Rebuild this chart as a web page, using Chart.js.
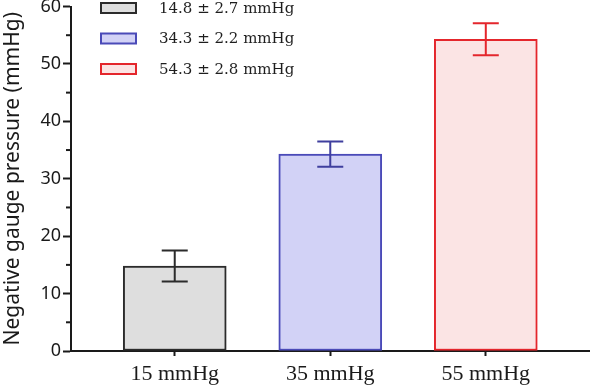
<!DOCTYPE html>
<html>
<head>
<meta charset="utf-8">
<script src="https://cdn.jsdelivr.net/npm/chart.js@4/dist/chart.umd.min.js"></script>
<style>
html,body{margin:0;padding:0;background:#fff;}
#wrap{width:590px;height:388px;position:relative;}
</style>
</head>
<body>
<div id="wrap"><canvas id="c" width="590" height="388"></canvas></div>
<script>
const categories = ['15 mmHg', '35 mmHg', '55 mmHg'];
const means = [14.8, 34.3, 54.3];
const sds = [2.7, 2.2, 2.8];
const legendLabels = ['14.8 \u00B1 2.7 mmHg', '34.3 \u00B1 2.2 mmHg', '54.3 \u00B1 2.8 mmHg'];
const yMajorTicks = [0, 10, 20, 30, 40, 50, 60];
const yMinorTicks = [5, 15, 25, 35, 45, 55];
const fillColors = ['#dedede', '#d2d2f6', '#fbe4e4'];
const lineColors = ['#2b2b2b', '#4a4ab8', '#e4262c'];
const errColors = ['#2b2b2b', '#3f3f9e', '#e4262c'];

const errorBars = {
  id: 'errorBars',
  afterDatasetsDraw(chart) {
    const ctx = chart.ctx, xs = chart.scales.x, ys = chart.scales.y;
    ctx.save();
    ctx.lineWidth = 2;
    means.forEach((m, i) => {
      const x = xs.getPixelForValue(i);
      const t = ys.getPixelForValue(m + sds[i]);
      const b = ys.getPixelForValue(m - sds[i]);
      ctx.strokeStyle = errColors[i];
      ctx.beginPath();
      ctx.moveTo(x, t); ctx.lineTo(x, b);
      ctx.moveTo(x - 13, t); ctx.lineTo(x + 13, t);
      ctx.moveTo(x - 13, b); ctx.lineTo(x + 13, b);
      ctx.stroke();
    });
    ctx.restore();
  }
};

const minorTicks = {
  id: 'minorTicks',
  afterDraw(chart) {
    const ctx = chart.ctx, ys = chart.scales.y, left = chart.chartArea.left;
    ctx.save();
    ctx.strokeStyle = '#1a1a1a';
    ctx.lineWidth = 2;
    yMinorTicks.forEach(v => {
      const y = ys.getPixelForValue(v);
      ctx.beginPath();
      ctx.moveTo(left - 5, y); ctx.lineTo(left, y);
      ctx.stroke();
    });
    ctx.restore();
  }
};

const boxLegend = {
  id: 'boxLegend',
  afterDraw(chart) {
    const ctx = chart.ctx, left = chart.chartArea.left;
    ctx.save();
    ctx.font = '15px "DejaVu Serif"';
    ctx.textBaseline = 'middle';
    legendLabels.forEach((lab, i) => {
      const cy = 8 + i * 30.5;
      ctx.fillStyle = fillColors[i];
      ctx.fillRect(left + 30, cy - 5, 35, 10);
      ctx.strokeStyle = lineColors[i];
      ctx.lineWidth = 2;
      ctx.strokeRect(left + 30, cy - 5, 35, 10);
      ctx.fillStyle = '#1e1e1e';
      ctx.fillText(lab, left + 88, cy + 1);
    });
    ctx.restore();
  }
};

new Chart(document.getElementById('c'), {
  type: 'bar',
  data: {
    datasets: [{
      data: means.map((v, i) => ({ x: i, y: v })),
      backgroundColor: fillColors,
      borderColor: lineColors,
      borderWidth: 2,
      barThickness: 103,
      borderSkipped: false
    }]
  },
  options: {
    responsive: false,
    animation: false,
    layout: { padding: { top: 0, right: 0, left: 0, bottom: 0 } },
    plugins: { legend: { display: false }, tooltip: { enabled: false } },
    scales: {
      x: {
        type: 'linear',
        offset: false,
        bounds: 'data',
        min: -0.667,
        max: 2.67,
        afterDataLimits: s => { s.min = -0.667; s.max = 2.67; },
        afterBuildTicks: s => { s.ticks = categories.map((c, i) => ({ value: i })); },
        afterFit: s => { s.height = 37; s.paddingLeft = 0; s.paddingRight = 0; },
        ticks: {
          callback: (v) => categories[v],
          color: '#1a1a1a',
          font: { family: '"Liberation Serif"', size: 22 },
          padding: 5,
          maxRotation: 0,
          autoSkip: false
        },
        grid: { offset: false, drawOnChartArea: false, tickLength: 5, tickWidth: 2, tickColor: '#1a1a1a' },
        border: { color: '#1a1a1a', width: 2 }
      },
      y: {
        min: 0,
        max: 60,
        afterBuildTicks: s => { s.ticks = yMajorTicks.map(v => ({ value: v })); },
        afterFit: s => { s.width = 71; s.paddingTop = 6.5; s.paddingBottom = 0; },
        ticks: {
          color: '#1a1a1a',
          font: { family: '"Noto Sans"', size: 18 },
          padding: 2
        },
        grid: { drawOnChartArea: false, tickLength: 8, tickWidth: 2, tickColor: '#1a1a1a' },
        border: { color: '#1a1a1a', width: 2 },
        title: {
          display: true,
          text: 'Negative gauge pressure (mmHg)',
          color: '#1a1a1a',
          font: { family: '"Noto Sans"', size: 21 },
          padding: { top: 0, bottom: 0 }
        }
      }
    }
  },
  plugins: [errorBars, minorTicks, boxLegend]
});
</script>
</body>
</html>
